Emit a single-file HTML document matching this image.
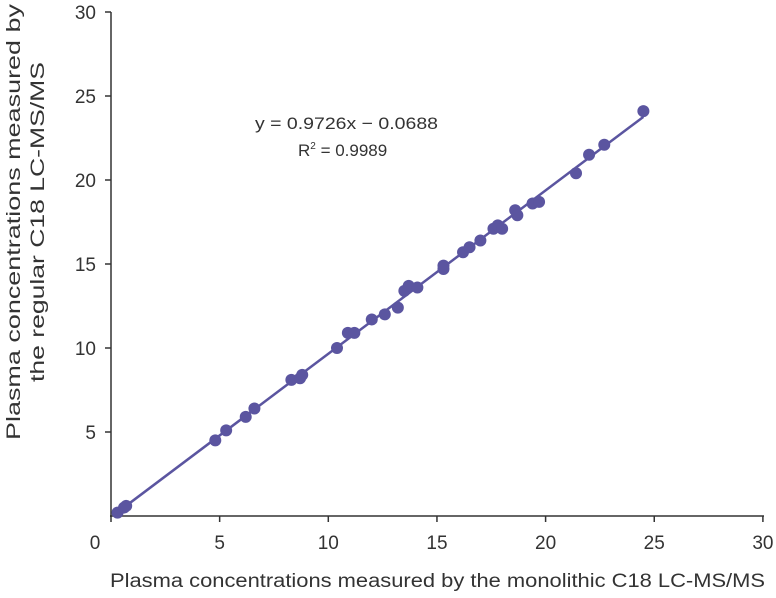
<!DOCTYPE html>
<html><head><meta charset="utf-8"><style>
body{margin:0;background:#fff;width:776px;height:593px;overflow:hidden}
text{font-family:"Liberation Sans",sans-serif;fill:#333}
</style></head><body>
<svg id="chart" width="776" height="593" viewBox="0 0 776 593"></svg>
<script>
const xVals=[0.3,0.6,0.7,4.8,5.3,6.2,6.6,8.3,8.7,8.8,10.4,10.9,11.2,12.0,12.6,13.2,13.5,13.7,14.1,15.3,15.3,16.2,16.5,17.0,17.6,17.8,18.0,18.6,18.7,19.4,19.7,21.4,22.0,22.7,24.5];
const yVals=[0.2,0.5,0.6,4.5,5.1,5.9,6.4,8.1,8.2,8.4,10.0,10.9,10.9,11.7,12.0,12.4,13.4,13.7,13.6,14.7,14.9,15.7,16.0,16.4,17.1,17.3,17.1,18.2,17.9,18.6,18.7,20.4,21.5,22.1,24.1];
const xTicks=[0,5,10,15,20,25,30];
const yTicks=[5,10,15,20,25,30];
const slope=0.9726, intercept=-0.0688;
const ns="http://www.w3.org/2000/svg";
const svg=document.getElementById('chart');
const X=v=>111+v*21.73, Y=v=>516-v*16.8;
function mk(t,a,p){const e=document.createElementNS(ns,t);for(const k in a)e.setAttribute(k,a[k]);(p||svg).appendChild(e);return e;}
const ax=mk('g',{});


mk('line',{x1:111,y1:12,x2:111,y2:517,stroke:'#333','stroke-width':1.5},ax);
mk('line',{x1:110,y1:516,x2:764,y2:516,stroke:'#333','stroke-width':1.5},ax);
xTicks.forEach(t=>{mk('line',{x1:X(t),y1:516,x2:X(t),y2:522,stroke:'#333','stroke-width':1.5},ax);
 const tx=mk('text',{x:X(t)-(t===0?16:0),y:549,'text-anchor':'middle','font-size':19},ax);tx.textContent=t;
 
 });
yTicks.forEach(t=>{mk('line',{x1:105,y1:Y(t),x2:111,y2:Y(t),stroke:'#333','stroke-width':1.5},ax);
 const tx=mk('text',{x:96,y:Y(t)+7,'text-anchor':'end','font-size':19},ax);tx.textContent=t;
 
 });
const x0=xVals[0],x1=xVals[xVals.length-1];
const ln=mk('line',{x1:X(x0),y1:Y(slope*x0+intercept),x2:X(x1),y2:Y(slope*x1+intercept),stroke:'#5b55a0','stroke-width':2.5});


xVals.forEach((v,i)=>{const c=mk('circle',{cx:X(v),cy:Y(yVals[i]),r:6,fill:'#5b55a0'});
 
 });
const eq=mk('text',{x:255,y:129,'font-size':17,textLength:183,lengthAdjust:'spacingAndGlyphs'});eq.textContent='y = 0.9726x − 0.0688';


const r2=mk('text',{x:298,y:156,'font-size':17});r2.innerHTML='R<tspan dy="-7" font-size="10">2</tspan><tspan dy="7"> = 0.9989</tspan>';


const xt=mk('text',{x:110,y:587,'font-size':19,textLength:655,lengthAdjust:'spacingAndGlyphs'});xt.textContent='Plasma concentrations measured by the monolithic C18 LC-MS/MS';


const yt=mk('text',{transform:'translate(20,222) rotate(-90)','text-anchor':'middle','font-size':19});
yt.innerHTML='<tspan x="0" y="0" textLength="436" lengthAdjust="spacingAndGlyphs">Plasma concentrations measured by</tspan><tspan x="0" y="24" textLength="320" lengthAdjust="spacingAndGlyphs">the regular C18 LC-MS/MS</tspan>';


</script>
</body></html>
